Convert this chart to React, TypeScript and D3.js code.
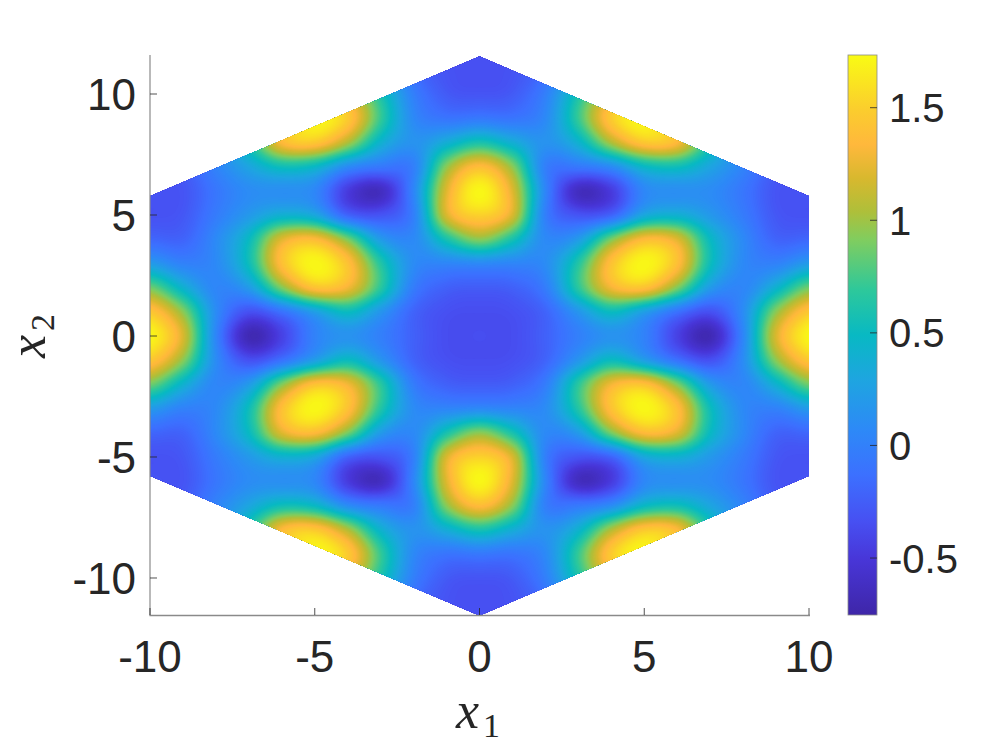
import React, { useMemo } from "react";
import * as d3 from "d3";

// Field values for the quadrant x1 >= 0, x2 >= 0 (the picture mirrors in both axes).
const gridX1 = [0, 1, 2, 3, 4, 5, 6, 7, 8, 9, 10];
const row0 = [-0.35, -0.35, -0.22, 0.0, 0.15, 0.02, -0.42, -0.68, 0.05, 1.2, 1.72];
const row1 = [-0.35, -0.33, -0.2, 0.18, 0.52, 0.25, -0.1, -0.32, 0.1, 0.95, 1.46];
const row2 = [-0.25, -0.22, -0.02, 0.68, 1.3, 1.42, 0.92, 0.22, 0.05, 0.42, 0.88];
const row3 = [0.08, 0.05, 0.1, 0.65, 1.42, 1.72, 1.4, 0.54, 0.08, 0.02, 0.22];
const row4 = [0.95, 0.6, 0.08, 0.22, 0.9, 1.36, 1.22, 0.5, 0.08, -0.2, -0.18];
const row5 = [1.52, 1.2, 0.0, -0.3, -0.2, 0.32, 0.4, 0.2, -0.03, -0.28, -0.32];
const row6 = [1.72, 1.22, 0.05, -0.62, -0.46, 0.06, 0.12, 0.1, -0.07, -0.3, -0.3];
const row7 = [1.38, 0.95, 0.0, -0.05, 0.1, 0.48, 0.55, 0.3, 0.03, -0.25, -0.3];
const row8 = [0.6, 0.38, 0.15, 0.42, 1.05, 1.46, 1.35, 0.62, 0.1, -0.2, -0.3];
const row9 = [-0.05, -0.08, 0.08, 0.72, 1.48, 1.7, 1.28, 0.6, 0.1, -0.2, -0.3];
const row10 = [-0.3, -0.26, 0.0, 0.6, 1.2, 1.4, 1.1, 0.5, 0.1, -0.2, -0.3];
const row11 = [-0.33, -0.31, -0.15, 0.3, 0.8, 1.0, 0.8, 0.3, 0.0, -0.2, -0.3];
const row12 = [-0.33, -0.31, -0.25, 0.0, 0.3, 0.5, 0.3, 0.0, -0.1, -0.2, -0.3];
const quadrantRows = [row0, row1, row2, row3, row4, row5, row6, row7, row8, row9, row10, row11, row12];

const xTicks = [-10, -5, 0, 5, 10];
const yTicks = [-10, -5, 0, 5, 10];
const barTicks = [-0.5, 0, 0.5, 1, 1.5];
const barTickLabels = ["-0.5", "0", "0.5", "1", "1.5"];
const hexagon = [[0, 11.547], [10, 5.7735], [10, -5.7735], [0, -11.547], [-10, -5.7735], [-10, 5.7735]];
const colorDomain = [-0.753, 1.734];
const parulaStops = [
  [0, "#3e26a8"], [0.1, "#4836d8"], [0.167, "#4750f2"], [0.25, "#3c70ff"], [0.33, "#2d89f7"],
  [0.42, "#1ea5e0"], [0.5, "#08b9c3"], [0.58, "#2dc89b"], [0.67, "#80cd5f"], [0.72, "#aebf3a"],
  [0.78, "#d8b82e"], [0.84, "#ffb83c"], [0.9, "#fbcc2e"], [1, "#f9fb14"],
] as [number, string][];

const FONT = "'Liberation Sans', Arial, sans-serif";
const MATH = "'Liberation Serif', serif";
const INK = "#262626";
const AXIS = "#8a8a8a";

const catmull = (a: number, b: number, c: number, d: number, t: number) =>
  0.5 * (2 * b + (c - a) * t + (2 * a - 5 * b + 4 * c - d) * t * t + (3 * b - a - 3 * c + d) * t * t * t);

export default function App() {
  const x = d3.scaleLinear().domain([-10, 10]).range([150, 809]);
  const y = d3.scaleLinear().domain([-11.55, 11.55]).range([615.5, 56.5]);
  const bar = d3.scaleLinear().domain(colorDomain).range([615, 55]);
  const colorScale = d3
    .scaleLinear<string>()
    .domain(parulaStops.map((s) => colorDomain[0] + s[0] * (colorDomain[1] - colorDomain[0])))
    .range(parulaStops.map((s) => s[1]))
    .interpolate(d3.interpolateRgb)
    .clamp(true);

  const { layers, path } = useMemo(() => {
    const at = (ix: number, iy: number) => {
      const a = Math.min(gridX1.length - 1, Math.abs(ix));
      const b = Math.min(quadrantRows.length - 1, Math.abs(iy));
      return quadrantRows[b][a];
    };
    const k = 8;
    const pad = 0.5;
    const x0 = -10 - pad;
    const y0 = -12;
    const nx = Math.round((20 + 2 * pad) * k) + 1;
    const ny = 24 * k + 1;
    const values = new Float64Array(nx * ny);
    for (let j = 0; j < ny; j++) {
      const gy = y0 + j / k;
      const iy = Math.floor(gy);
      const ty = gy - iy;
      for (let i = 0; i < nx; i++) {
        const gx = x0 + i / k;
        const ix = Math.floor(gx);
        const tx = gx - ix;
        const col = [-1, 0, 1, 2].map((dy) =>
          catmull(at(ix - 1, iy + dy), at(ix, iy + dy), at(ix + 1, iy + dy), at(ix + 2, iy + dy), tx)
        );
        values[j * nx + i] = catmull(col[0], col[1], col[2], col[3], ty);
      }
    }
    const thresholds = d3.range(0, 180).map((i) => colorDomain[0] + (i / 180) * (colorDomain[1] - colorDomain[0]));
    const layers = d3.contours().size([nx, ny]).thresholds(thresholds)(values as any);
    const transform = d3.geoTransform({
      point(this: any, px: number, py: number) {
        this.stream.point(x(x0 + (px - 0.5) / k), y(y0 + (py - 0.5) / k));
      },
    });
    return { layers, path: d3.geoPath(transform) };
  }, []);

  const hexPoints = hexagon.map((p) => `${x(p[0])},${y(p[1])}`).join(" ");

  return (
    <svg
      width={997}
      height={747}
      style={{ position: "absolute", left: 0, top: 0, display: "block", background: "#fff" }}
    >
      <defs>
        <clipPath id="hex">
          <polygon points={hexPoints} />
        </clipPath>
        <linearGradient id="barFill" x1="0" x2="0" y1="1" y2="0">
          {parulaStops.map((s) => (
            <stop key={s[0]} offset={s[0]} stopColor={s[1]} />
          ))}
        </linearGradient>
      </defs>
      <g clipPath="url(#hex)">
        <rect x={140} y={50} width={680} height={570} fill={colorScale(colorDomain[0])} />
        {layers.map((l, i) => (
          <path key={i} d={path(l as any) || ""} fill={colorScale(l.value)} />
        ))}
      </g>

      {/* axes */}
      <line x1={150} x2={150} y1={55} y2={615.5} stroke={AXIS} strokeWidth={1.2} />
      <line x1={149.5} x2={810} y1={615.5} y2={615.5} stroke={AXIS} strokeWidth={1.5} />
      {xTicks.map((t) => (
        <g key={t}>
          <line x1={x(t)} x2={x(t)} y1={615} y2={608} stroke={INK} strokeWidth={0.8} />
          <text x={x(t)} y={672} textAnchor="middle" fontFamily={FONT} fontSize={44} fill={INK}>
            {t}
          </text>
        </g>
      ))}
      {yTicks.map((t) => (
        <g key={t}>
          <line x1={150} x2={157} y1={y(t)} y2={y(t)} stroke={INK} strokeWidth={0.8} />
          <text x={136} y={y(t) + 16} textAnchor="end" fontFamily={FONT} fontSize={44} fill={INK}>
            {t}
          </text>
        </g>
      ))}

      {/* colour bar */}
      <rect x={848} y={bar(colorDomain[1])} width={29} height={bar(colorDomain[0]) - bar(colorDomain[1])} fill="url(#barFill)" />
      <rect x={848} y={55} width={29} height={560} fill="none" stroke={AXIS} strokeWidth={0.8} />
      {barTicks.map((t, i) => (
        <g key={t}>
          <line x1={870} x2={877} y1={bar(t)} y2={bar(t)} stroke={INK} strokeWidth={0.8} />
          <text x={889} y={bar(t) + 14.5} fontFamily={FONT} fontSize={40} fill={INK}>
            {barTickLabels[i]}
          </text>
        </g>
      ))}

      {/* axis titles */}
      <text x={456} y={728} fontFamily={MATH} fontStyle="italic" fontSize={52} fill={INK}>
        x
      </text>
      <text x={483} y={737} fontFamily={MATH} fontSize={34} fill={INK}>
        1
      </text>
      <g transform="translate(45,358) rotate(-90)">
        <text x={0} y={0} fontFamily={MATH} fontStyle="italic" fontSize={52} fill={INK}>
          x
        </text>
        <text x={27} y={9} fontFamily={MATH} fontSize={34} fill={INK}>
          2
        </text>
      </g>
    </svg>
  );
}
